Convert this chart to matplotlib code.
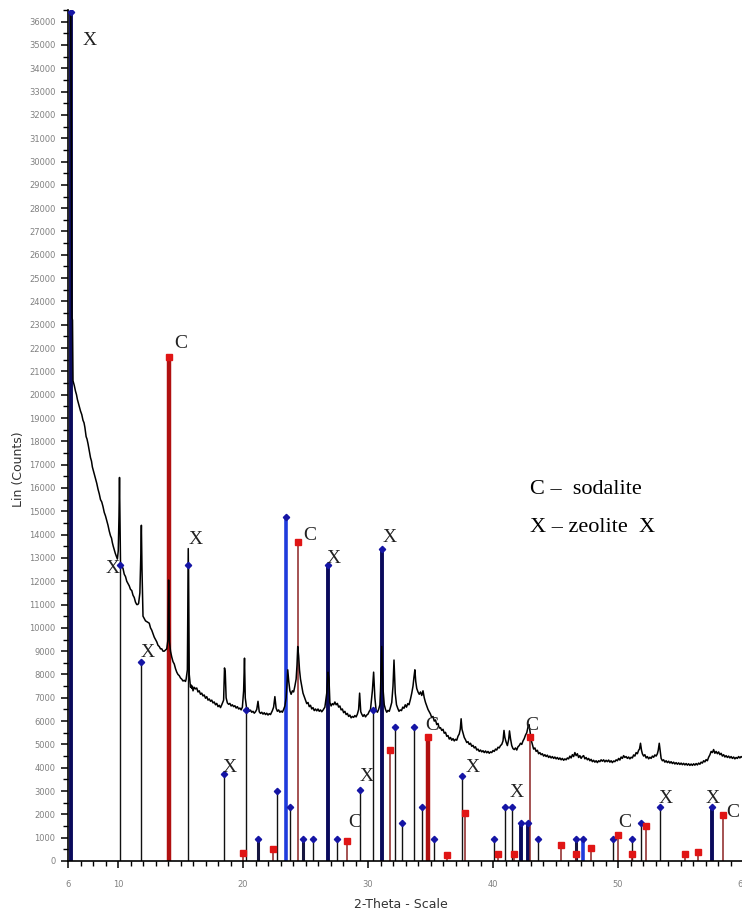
import matplotlib.pyplot as plt
from matplotlib.ticker import MultipleLocator, FixedLocator

pattern_points = [
    (6.22, 36400), (6.28, 30000), (6.32, 23300), (6.36, 23200), (6.40, 20600), (6.5, 20400), (6.6, 20150),
    (6.68, 20000), (6.75, 19800), (6.85, 19600), (6.9, 19500), (7.0, 19300), (7.1, 19150), (7.2, 18900),
    (7.28, 18800), (7.35, 18600), (7.45, 18200), (7.52, 18100), (7.6, 17900), (7.7, 17600), (7.8, 17300),
    (7.88, 17150), (7.95, 16900), (8.05, 16700), (8.1, 16600), (8.2, 16400), (8.3, 16200), (8.4, 15950),
    (8.5, 15750), (8.6, 15500), (8.7, 15400), (8.8, 15200), (8.9, 14950), (9.0, 14800), (9.1, 14600),
    (9.2, 14400), (9.3, 14150), (9.4, 13950), (9.48, 13850), (9.55, 13650), (9.62, 13500), (9.7, 13350),
    (9.78, 13200), (9.85, 13100), (9.95, 12950), (10.02, 13300), (10.08, 14800), (10.12, 16450), (10.16, 14600),
    (10.2, 12800), (10.3, 12650), (10.4, 12550), (10.5, 12300), (10.6, 12200), (10.7, 12000), (10.8, 11900),
    (10.9, 11800), (11.0, 11650), (11.1, 11600), (11.2, 11400), (11.3, 11300), (11.4, 11100), (11.5, 11000),
    (11.58, 11000), (11.65, 11050), (11.75, 11500), (11.82, 13000), (11.87, 14400), (11.92, 12500), (12.0, 10500),
    (12.1, 10400), (12.2, 10300), (12.35, 10250), (12.5, 10200), (12.6, 10000), (12.7, 9900), (12.8, 9750),
    (12.9, 9600), (13.0, 9500), (13.1, 9400), (13.2, 9250), (13.3, 9200), (13.4, 9100), (13.5, 9100),
    (13.6, 9000), (13.7, 9000), (13.8, 9050), (13.9, 9100), (14.0, 9500), (14.05, 12050), (14.12, 9400),
    (14.2, 9000), (14.3, 8750), (14.4, 8550), (14.5, 8450), (14.6, 8250), (14.7, 8100), (14.8, 8000),
    (14.9, 7950), (15.0, 7850), (15.1, 7800), (15.2, 7720), (15.3, 7750), (15.4, 7700), (15.45, 7800),
    (15.55, 8200), (15.62, 13400), (15.7, 8000), (15.8, 7450), (15.85, 7550), (15.9, 7400), (15.95, 7500),
    (16.0, 7300), (16.1, 7450), (16.2, 7380), (16.3, 7420), (16.4, 7250), (16.5, 7300), (16.6, 7150),
    (16.7, 7200), (16.8, 7080), (16.9, 7120), (17.0, 6980), (17.1, 7050), (17.2, 6900), (17.3, 6950),
    (17.4, 6850), (17.5, 6900), (17.6, 6780), (17.7, 6820), (17.8, 6700), (17.9, 6760), (18.0, 6620),
    (18.1, 6680), (18.2, 6580), (18.3, 6700), (18.45, 6900), (18.52, 8280), (18.58, 8100), (18.65, 7000),
    (18.75, 6780), (18.85, 6720), (18.95, 6760), (19.05, 6650), (19.15, 6700), (19.25, 6620), (19.35, 6660),
    (19.45, 6560), (19.55, 6620), (19.65, 6520), (19.75, 6560), (19.85, 6480), (19.95, 6600), (20.05, 7300),
    (20.12, 8700), (20.18, 7000), (20.3, 6500), (20.4, 6560), (20.5, 6420), (20.6, 6470), (20.7, 6380),
    (20.8, 6420), (20.9, 6340), (21.0, 6400), (21.1, 6500), (21.2, 6850), (21.3, 6400), (21.4, 6330),
    (21.5, 6380), (21.6, 6300), (21.7, 6360), (21.8, 6280), (21.9, 6340), (22.0, 6260), (22.1, 6320),
    (22.2, 6280), (22.35, 6450), (22.45, 6600), (22.55, 7050), (22.65, 6550), (22.75, 6420), (22.85, 6480),
    (22.95, 6380), (23.05, 6430), (23.15, 6380), (23.25, 6500), (23.35, 6650), (23.45, 7000), (23.52, 7600),
    (23.58, 8200), (23.66, 7700), (23.75, 7300), (23.85, 7150), (23.95, 7300), (24.05, 7250), (24.15, 7500),
    (24.25, 7800), (24.32, 8400), (24.38, 9200), (24.45, 8800), (24.52, 8200), (24.6, 7800), (24.7, 7500),
    (24.8, 7200), (24.9, 7050), (25.0, 6900), (25.1, 6750), (25.2, 6800), (25.3, 6620), (25.4, 6680),
    (25.5, 6520), (25.6, 6580), (25.7, 6450), (25.8, 6520), (25.9, 6440), (26.0, 6520), (26.1, 6420),
    (26.2, 6480), (26.3, 6400), (26.4, 6470), (26.55, 6600), (26.7, 7200), (26.8, 8100), (26.88, 7800),
    (26.95, 6800), (27.05, 6650), (27.15, 6750), (27.25, 6700), (27.35, 6820), (27.45, 6700), (27.55, 6760),
    (27.65, 6600), (27.75, 6650), (27.85, 6480), (27.95, 6520), (28.05, 6360), (28.15, 6420), (28.25, 6280),
    (28.35, 6330), (28.45, 6200), (28.55, 6260), (28.65, 6140), (28.75, 6200), (28.85, 6160), (28.95, 6240),
    (29.05, 6180), (29.15, 6300), (29.25, 6500), (29.33, 7200), (29.42, 6400), (29.5, 6300), (29.6, 6200),
    (29.7, 6280), (29.8, 6180), (29.9, 6260), (30.0, 6300), (30.1, 6420), (30.2, 6500), (30.35, 7300),
    (30.45, 8100), (30.55, 7000), (30.65, 6450), (30.75, 6380), (30.85, 6500), (30.95, 6700), (31.0, 7300),
    (31.1, 9200), (31.2, 7400), (31.3, 6700), (31.4, 6500), (31.5, 6380), (31.6, 6460), (31.7, 6420),
    (31.8, 6600), (31.9, 6800), (32.0, 7500), (32.08, 8620), (32.18, 7200), (32.28, 6700), (32.38, 6550),
    (32.48, 6420), (32.58, 6480), (32.68, 6450), (32.78, 6600), (32.88, 6550), (32.98, 6700), (33.08, 6600),
    (33.18, 6750), (33.28, 6700), (33.4, 6950), (33.5, 7200), (33.6, 7500), (33.68, 7900), (33.75, 8200),
    (33.82, 7700), (33.9, 7400), (34.0, 7250), (34.1, 7150), (34.2, 7250), (34.3, 7100), (34.4, 7300),
    (34.5, 7000), (34.6, 6800), (34.7, 6650), (34.8, 6500), (34.9, 6400), (35.0, 6300), (35.1, 6150),
    (35.2, 6200), (35.3, 6000), (35.4, 6050), (35.5, 5850), (35.6, 5900), (35.7, 5700), (35.8, 5720),
    (35.9, 5600), (36.0, 5650), (36.1, 5480), (36.2, 5520), (36.3, 5350), (36.4, 5380), (36.5, 5230),
    (36.6, 5300), (36.7, 5180), (36.8, 5250), (36.9, 5150), (37.0, 5220), (37.1, 5180), (37.2, 5350),
    (37.3, 5450), (37.38, 5650), (37.45, 6100), (37.52, 5650), (37.6, 5500), (37.7, 5300), (37.8, 5200),
    (37.9, 5080), (38.0, 5120), (38.1, 5000), (38.2, 5050), (38.3, 4920), (38.4, 4960), (38.5, 4850),
    (38.6, 4900), (38.7, 4760), (38.8, 4800), (38.9, 4700), (39.0, 4760), (39.1, 4680), (39.2, 4730),
    (39.3, 4650), (39.4, 4720), (39.5, 4640), (39.6, 4700), (39.7, 4620), (39.8, 4680), (39.9, 4650),
    (40.0, 4740), (40.1, 4700), (40.2, 4800), (40.3, 4760), (40.4, 4880), (40.5, 4850), (40.6, 4950),
    (40.7, 5000), (40.8, 5150), (40.88, 5600), (40.95, 5300), (41.05, 5100), (41.15, 4950), (41.25, 5200),
    (41.32, 5580), (41.4, 5250), (41.5, 4950), (41.6, 4820), (41.7, 4780), (41.8, 4850), (41.9, 4760),
    (42.0, 4900), (42.1, 4950), (42.2, 5050), (42.3, 5000), (42.4, 5150), (42.5, 5250), (42.6, 5400),
    (42.7, 5500), (42.8, 5750), (42.88, 5850), (42.95, 5600), (43.05, 5200), (43.15, 5000), (43.25, 4800),
    (43.35, 4850), (43.45, 4700), (43.55, 4750), (43.65, 4600), (43.75, 4650), (43.85, 4560), (43.95, 4600),
    (44.05, 4500), (44.15, 4560), (44.25, 4480), (44.35, 4540), (44.45, 4440), (44.55, 4500), (44.65, 4420),
    (44.75, 4480), (44.85, 4400), (44.95, 4460), (45.05, 4380), (45.15, 4440), (45.25, 4360), (45.35, 4420),
    (45.45, 4340), (45.55, 4400), (45.65, 4320), (45.75, 4380), (45.85, 4340), (45.95, 4420), (46.05, 4380),
    (46.15, 4500), (46.25, 4420), (46.35, 4560), (46.45, 4480), (46.55, 4650), (46.65, 4520), (46.75, 4600),
    (46.85, 4440), (46.95, 4520), (47.05, 4400), (47.15, 4480), (47.25, 4520), (47.35, 4380), (47.45, 4440),
    (47.55, 4340), (47.65, 4400), (47.75, 4300), (47.85, 4360), (47.95, 4260), (48.05, 4320), (48.15, 4240),
    (48.25, 4300), (48.35, 4220), (48.45, 4300), (48.55, 4260), (48.65, 4340), (48.75, 4280), (48.85, 4340),
    (48.95, 4250), (49.05, 4320), (49.15, 4260), (49.25, 4330), (49.35, 4240), (49.45, 4300), (49.55, 4220),
    (49.65, 4290), (49.75, 4260), (49.85, 4340), (49.95, 4300), (50.05, 4400), (50.15, 4330), (50.25, 4460),
    (50.35, 4400), (50.45, 4520), (50.55, 4440), (50.65, 4480), (50.75, 4400), (50.85, 4460), (50.95, 4380),
    (51.05, 4450), (51.15, 4420), (51.25, 4550), (51.35, 4500), (51.45, 4650), (51.55, 4600), (51.65, 4750),
    (51.72, 4800), (51.8, 5050), (51.88, 4750), (51.95, 4600), (52.05, 4500), (52.15, 4560), (52.25, 4420),
    (52.35, 4480), (52.45, 4380), (52.55, 4450), (52.65, 4400), (52.75, 4500), (52.85, 4450), (52.95, 4550),
    (53.05, 4500), (53.15, 4600), (53.22, 4750), (53.3, 5050), (53.38, 4700), (53.45, 4400), (53.55, 4300),
    (53.65, 4340), (53.75, 4240), (53.85, 4300), (53.95, 4220), (54.05, 4280), (54.15, 4200), (54.25, 4260),
    (54.35, 4180), (54.45, 4240), (54.55, 4160), (54.65, 4220), (54.75, 4150), (54.85, 4210), (54.95, 4140),
    (55.05, 4200), (55.15, 4130), (55.25, 4190), (55.35, 4120), (55.45, 4180), (55.55, 4110), (55.65, 4170),
    (55.75, 4100), (55.85, 4160), (55.95, 4100), (56.05, 4170), (56.15, 4110), (56.25, 4180), (56.35, 4120),
    (56.45, 4200), (56.55, 4150), (56.65, 4240), (56.75, 4200), (56.85, 4300), (56.95, 4250), (57.05, 4350),
    (57.15, 4300), (57.25, 4450), (57.35, 4550), (57.45, 4700), (57.55, 4650), (57.65, 4780), (57.75, 4620),
    (57.85, 4700), (57.95, 4600), (58.05, 4680), (58.15, 4560), (58.25, 4620), (58.35, 4500), (58.45, 4560),
    (58.55, 4460), (58.65, 4520), (58.75, 4440), (58.85, 4500), (58.95, 4420), (59.05, 4480), (59.15, 4400),
    (59.25, 4460), (59.35, 4380), (59.45, 4440), (59.55, 4400), (59.65, 4480), (59.75, 4420), (59.85, 4480),
    (59.95, 4440), (60.0, 4460),
]
two_theta = [p[0] for p in pattern_points]
counts = [p[1] for p in pattern_points]

# reference sticks: zeolite X
zeolite_pos = [6.25, 10.15, 11.87, 15.62, 18.5, 20.25, 21.17, 22.7, 23.44, 23.76, 24.83, 25.57,
               26.83, 27.55, 29.36, 30.43, 31.15, 32.16, 32.74, 33.7, 34.34, 35.3, 37.5, 40.1,
               40.96, 41.5, 42.24, 42.77, 43.57, 46.6, 47.2, 49.6, 51.1, 51.8, 53.36, 57.5]
zeolite_int = [36400, 12700, 8550, 12700, 3720, 6475, 930, 3010, 14760, 2330, 930, 930,
               12690, 930, 3040, 6475, 13380, 5730, 1610, 5730, 2330, 930, 3660, 930,
               2330, 2330, 1640, 1640, 930, 930, 930, 930, 930, 1610, 2330, 2330]
zeolite_kind = ['navy', 'thin', 'thin', 'thin', 'thin', 'thin', 'dark', 'thin', 'blue', 'thin', 'dark', 'thin',
                'navy', 'thin', 'thin', 'thin', 'navy', 'thin', 'thin', 'thin', 'thin', 'thin', 'thin', 'thin',
                'thin', 'thin', 'navy', 'navy', 'thin', 'dark', 'blue', 'thin', 'thin', 'thin', 'thin', 'navy']

# reference sticks: sodalite
sodalite_pos = [14.05, 19.97, 22.4, 24.4, 28.35, 31.76, 34.83, 36.3, 37.76, 40.4, 41.7, 42.96,
                45.4, 46.6, 47.8, 50.0, 51.1, 52.2, 55.36, 56.4, 58.4]
sodalite_int = [21630, 330, 500, 13690, 860, 4760, 5330, 260, 2040, 300, 300, 5300,
                690, 300, 560, 1110, 300, 1510, 300, 400, 1970]
sodalite_kind = ['thick', 'thin', 'thin', 'thin', 'thin', 'thin', 'thick', 'thin', 'thin', 'thin', 'thin', 'thin',
                 'thin', 'thin', 'thin', 'thin', 'thin', 'thin', 'thin', 'thin', 'thin']

peak_labels = [("X", 7.76, 35200), ("X", 9.6, 12560), ("X", 12.4, 8960), ("C", 15.04, 22210),
               ("X", 16.24, 13770), ("X", 18.96, 4030), ("C", 25.36, 13980), ("X", 27.28, 12990),
               ("X", 31.76, 13890), ("X", 29.92, 3640), ("C", 28.96, 1670), ("C", 35.12, 5830),
               ("X", 38.4, 4030), ("C", 43.12, 5830), ("X", 41.92, 2920), ("C", 50.56, 1670),
               ("X", 53.84, 2700), ("X", 57.6, 2700), ("C", 59.2, 2100)]

zeo_style = {'thin': ('#111111', 1.0), 'dark': ('#161640', 2.2),
             'navy': ('#0a0a5c', 2.8), 'blue': ('#1f3bdc', 2.6)}
sod_style = {'thin': ('#8c2323', 1.1), 'thick': ('#b01010', 3.2)}

fig = plt.figure(figsize=(7.42, 9.15), dpi=100)
ax = fig.add_axes([68 / 742, 54 / 915, 675 / 742, 851 / 915])

for p, h, k in zip(zeolite_pos, zeolite_int, zeolite_kind):
    c, lw = zeo_style[k]
    ax.vlines(p, 0, h, color=c, lw=lw, zorder=2)
for p, h, k in zip(sodalite_pos, sodalite_int, sodalite_kind):
    c, lw = sod_style[k]
    ax.vlines(p, 0, h, color=c, lw=lw, zorder=2)

ax.plot(two_theta, counts, color='black', lw=1.1, zorder=3)

ax.plot(zeolite_pos, zeolite_int, ls='none', marker='D', ms=3.2, color='#1515a5', zorder=4)
ax.plot(sodalite_pos, sodalite_int, ls='none', marker='s', ms=4.5, color='#e01515', zorder=4)

for txt, px, py in peak_labels:
    ax.text(px, py, txt, family='Liberation Serif', fontsize=14, ha='center', va='center',
            color='#222222', zorder=5)

fig.text(0.714, 0.4645, "C \u2013  sodalite", family='Liberation Serif',
         fontsize=16, va='center', ha='left')
fig.text(0.714, 0.424, "X \u2013 zeolite  X", family='Liberation Serif',
         fontsize=16, va='center', ha='left')

ax.set_xlim(6, 60)
ax.set_ylim(0, 36500)
ax.spines['top'].set_visible(False)
ax.spines['right'].set_visible(False)
ax.spines['left'].set_linewidth(1.2)
ax.spines['bottom'].set_linewidth(1.2)

ax.xaxis.set_major_locator(FixedLocator([6, 10, 20, 30, 40, 50, 60]))
ax.xaxis.set_minor_locator(MultipleLocator(1))
ax.set_xticklabels(['6', '10', '20', '30', '40', '50', '60'])
ax.yaxis.set_minor_locator(MultipleLocator(500))
ax.set_yticks(range(0, 36001, 1000))
ax.set_yticklabels([str(v) for v in range(0, 36001, 1000)])

ax.tick_params(axis='both', which='major', length=5, width=1.1, labelsize=6, labelcolor='#808080')
ax.tick_params(axis='both', which='minor', length=3.5, width=1.0)
ax.tick_params(axis='x', which='major', pad=9)
ax.tick_params(axis='y', which='major', pad=4)

fig.text(0.54, 0.011, "2-Theta - Scale", fontsize=9, ha='center', va='center', color='#333333')
fig.text(0.025, 0.487, "Lin (Counts)", fontsize=9, ha='center', va='center', rotation=90, color='#333333')

fig.savefig('out.png', dpi=100)
